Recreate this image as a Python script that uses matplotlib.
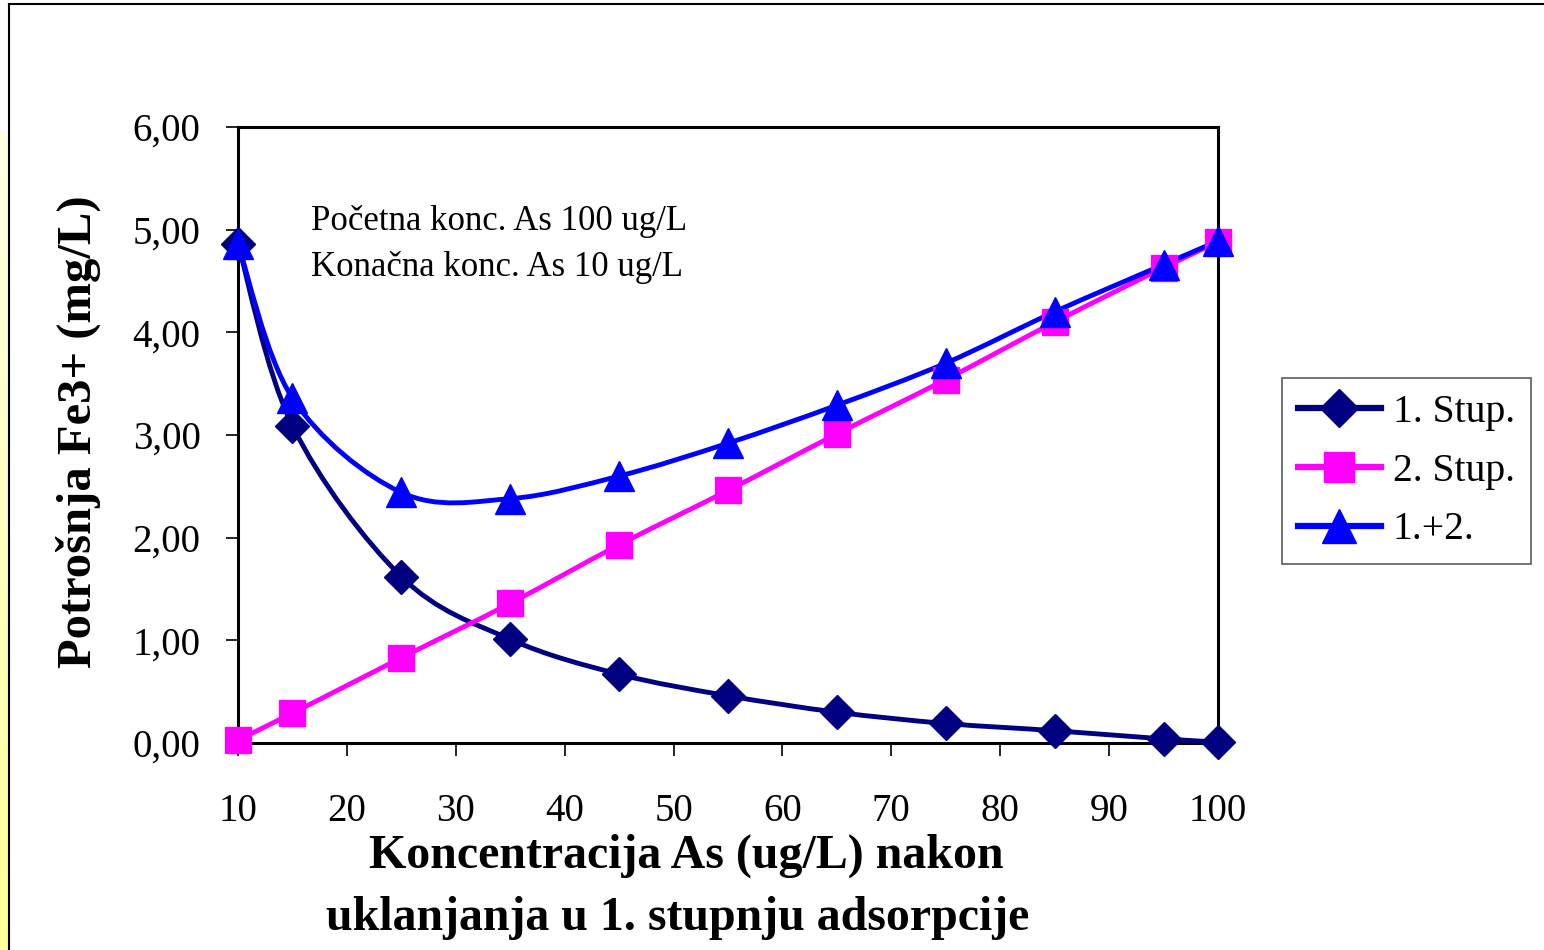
import numpy as np
import matplotlib
matplotlib.use("Agg")
import matplotlib.pyplot as plt
from matplotlib.path import Path
from matplotlib.patches import PathPatch
from matplotlib.lines import Line2D
from matplotlib.ticker import FuncFormatter

# data
conc = [10, 15, 25, 35, 45, 55, 65, 75, 85, 95, 100]
stup1 = [4.86, 3.09, 1.62, 1.01, 0.67, 0.46, 0.30, 0.19, 0.12, 0.04, 0.01]
stup2 = [0.03, 0.29, 0.83, 1.36, 1.93, 2.46, 3.01, 3.54, 4.10, 4.63, 4.88]
ukupno = [4.86, 3.36, 2.44, 2.38, 2.60, 2.92, 3.29, 3.70, 4.20, 4.66, 4.89]
labels = ["1. Stup.", "2. Stup.", "1.+2."]
colors = ["#000080", "#FF00FF", "#0000FF"]
markers = ["D", "s", "^"]
msize = {"D": 17, "s": 19, "^": 22}

plt.rcParams['font.family'] = ['Liberation Serif', 'DejaVu Serif']

W, H = 1544, 950
fig = plt.figure(figsize=(W / 100, H / 100), dpi=100)

# slide frame + yellow strip on the left
strip = fig.add_axes([0, 0, 8 / W, 1 - 130 / H])
grad = np.linspace(0, 1, 100).reshape(-1, 1)
strip.imshow(grad, aspect='auto', cmap=matplotlib.colors.LinearSegmentedColormap.from_list(
    'y', ["#FFFF99", "#FFFFE6"]), origin='lower', extent=[0, 1, 0, 1])
strip.axis('off')
fig.add_artist(Line2D([8.5 / W, 8.5 / W], [0, 1 - 4 / H], color='black', lw=1.5))
fig.add_artist(Line2D([8.5 / W, 1], [1 - 4 / H, 1 - 4 / H], color='black', lw=1.5))

ax = fig.add_axes([238 / W, 1 - 743 / H, (1218 - 238) / W, (743 - 127) / H])


def smooth(ax, x, y, color):
    # smoothed line like excel: bezier segments through the points
    p = np.column_stack([x, y]).astype(float)
    n = len(p)
    verts = [p[0]]
    codes = [Path.MOVETO]
    for i in range(n - 1):
        p0 = p[i - 1] if i > 0 else p[i]
        p3 = p[i + 2] if i + 2 < n else p[i + 1]
        c1 = p[i] + (p[i + 1] - p0) / 6
        c2 = p[i + 1] - (p3 - p[i]) / 6
        verts += [c1, c2, p[i + 1]]
        codes += [Path.CURVE4] * 3
    ax.add_patch(PathPatch(Path(verts, codes), fill=False, edgecolor=color, lw=3.5,
                           zorder=3, capstyle='round', joinstyle='round'))


series = [stup1, stup2, ukupno]
for vals, c, m in zip(series, colors, markers):
    smooth(ax, conc, vals, c)
    ax.plot(conc, vals, linestyle='none', marker=m, ms=msize[m], color=c, zorder=4,
            clip_on=False)

ax.set_xlim(10, 100)
ax.set_ylim(0, 6)
ax.set_xticks(range(10, 101, 10))
ax.set_yticks(range(0, 7))
ax.yaxis.set_major_formatter(FuncFormatter(lambda v, p: f"{v:.2f}".replace('.', ',')))
ax.tick_params(axis='both', direction='out', length=9, width=1.2, labelsize=28)
ax.tick_params(axis='y', pad=18)
ax.tick_params(axis='x', pad=27)
for s in ax.spines.values():
    s.set_linewidth(2.2)

fig.text(78 / W, 1 - 432 / H, "Potrošnja Fe3+ (mg/L)", fontsize=35, fontweight='bold',
         rotation=90, ha='center', va='center')
fig.text(686 / W, 1 - 856 / H, "Koncentracija As (ug/L) nakon", fontsize=34.5,
         fontweight='bold', ha='center', va='center')
fig.text(678 / W, 1 - 918 / H, "uklanjanja u 1. stupnju adsorpcije", fontsize=34.5,
         fontweight='bold', ha='center', va='center')

fig.text(311 / W, 1 - 222 / H, "Početna konc. As 100 ug/L", fontsize=25,
         va='center', ha='left')
fig.text(311 / W, 1 - 268 / H, "Konačna konc. As 10 ug/L", fontsize=25,
         va='center', ha='left')

handles = [Line2D([], [], color=c, marker=m, lw=4.5, ms=msize[m] + 2)
           for c, m in zip(colors, markers)]
leg = fig.legend(handles, labels, loc='upper left',
                 bbox_to_anchor=(1282 / W, 1 - 378 / H), fontsize=28.5,
                 frameon=True, fancybox=False, edgecolor='#333333', handlelength=2.1,
                 borderpad=0.4, borderaxespad=0, labelspacing=0.55, handletextpad=0.3)
leg.get_frame().set_linewidth(1.2)

fig.savefig("out.png", dpi=100)
